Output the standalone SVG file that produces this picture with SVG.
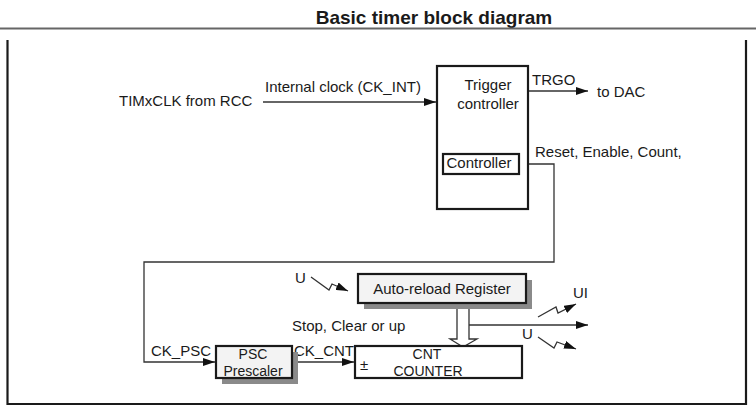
<svg xmlns="http://www.w3.org/2000/svg" width="756" height="417" viewBox="0 0 756 417">
<style>
text{font-family:"Liberation Sans",Arial,sans-serif;font-size:15px;fill:#1a1a1a}
.t{font-size:19px;font-weight:bold;text-anchor:middle}
.c{text-anchor:middle}
.s{font-size:14px}
.box{fill:#fff;stroke:#1a1a1a;stroke-width:2.2}
.gbox{fill:#f3f3f3;stroke:#1a1a1a;stroke-width:2.2}
.sh{fill:#8a8a8a}
.ln{fill:none;stroke:#333;stroke-width:1.3}
</style>
<defs>
<marker id="ah" viewBox="0 0 12 8" refX="12" refY="4" markerWidth="12" markerHeight="8" markerUnits="userSpaceOnUse" orient="auto">
<path d="M0,0 L12,4 L0,8 Z" fill="#111"/>
</marker>
</defs>
<rect width="756" height="417" fill="#fff"/>
<text class="t" x="434" y="24">Basic timer block diagram</text>
<line x1="0" y1="28.5" x2="756" y2="28.5" stroke="#666" stroke-width="2"/>
<path d="M7.5,40 V404 H746 V40" fill="none" stroke="#1a1a1a" stroke-width="2.2"/>

<g id="connectors">
<path class="ln" d="M263,102 H436" marker-end="url(#ah)"/>
<path class="ln" d="M528,91 H588" marker-end="url(#ah)"/>
<path class="ln" d="M519,164 H554 V262 H144 V362 H215" marker-end="url(#ah)"/>
<path class="ln" d="M292,362 H354" marker-end="url(#ah)"/>
<path class="ln" d="M469,325 H588" marker-end="url(#ah)"/>
<polygon points="457,303 457,339 450,339 463,347 477,339 469,339 469,303" fill="#fff" stroke="#333" stroke-width="1.3"/>
<path class="ln" d="M311,277 L329,290 L332,284 L348,291" marker-end="url(#ah)"/>
<path class="ln" d="M538,317 L556,307 L558,313 L576,304" marker-end="url(#ah)"/>
<path class="ln" d="M538,337 L554,348 L557,342 L576,349" marker-end="url(#ah)"/>
</g>

<g id="labels">
<text x="119" y="106">TIMxCLK from RCC</text>
<text x="265" y="92">Internal clock (CK_INT)</text>
<text x="532" y="85">TRGO</text>
<text x="597" y="97">to DAC</text>
<text x="535" y="157">Reset, Enable, Count,</text>
<text x="292" y="331">Stop, Clear or up</text>
<text x="295" y="283">U</text>
<text x="573" y="298">UI</text>
<text x="522" y="339">U</text>
<text x="151" y="356">CK_PSC</text>
<text x="294" y="356">CK_CNT</text>
</g>

<g id="trigger">
<rect class="box" x="437" y="66" width="91" height="143"/>
<text class="c" x="488" y="90">Trigger</text>
<text class="c" x="488" y="109">controller</text>
</g>
<g id="controller">
<rect class="box" x="443" y="154" width="76" height="20"/>
<text class="c" x="479" y="168">Controller</text>
</g>

<g id="autoreload">
<rect class="sh" x="364" y="280" width="168" height="29"/>
<rect class="gbox" x="358" y="274" width="168" height="29"/>
<text class="c" x="442" y="294">Auto-reload Register</text>
</g>

<g id="psc">
<rect class="sh" x="222" y="352" width="76" height="32"/>
<rect class="gbox" x="216" y="346" width="76" height="32"/>
<text class="c s" x="253" y="359">PSC</text>
<text class="c s" x="253" y="375.5">Prescaler</text>
</g>

<g id="cnt">
<rect class="box" x="355" y="346" width="167" height="32"/>
<text x="360" y="370">±</text>
<text class="c s" x="427" y="359">CNT</text>
<text class="c s" x="428" y="375.5">COUNTER</text>
</g>
</svg>
